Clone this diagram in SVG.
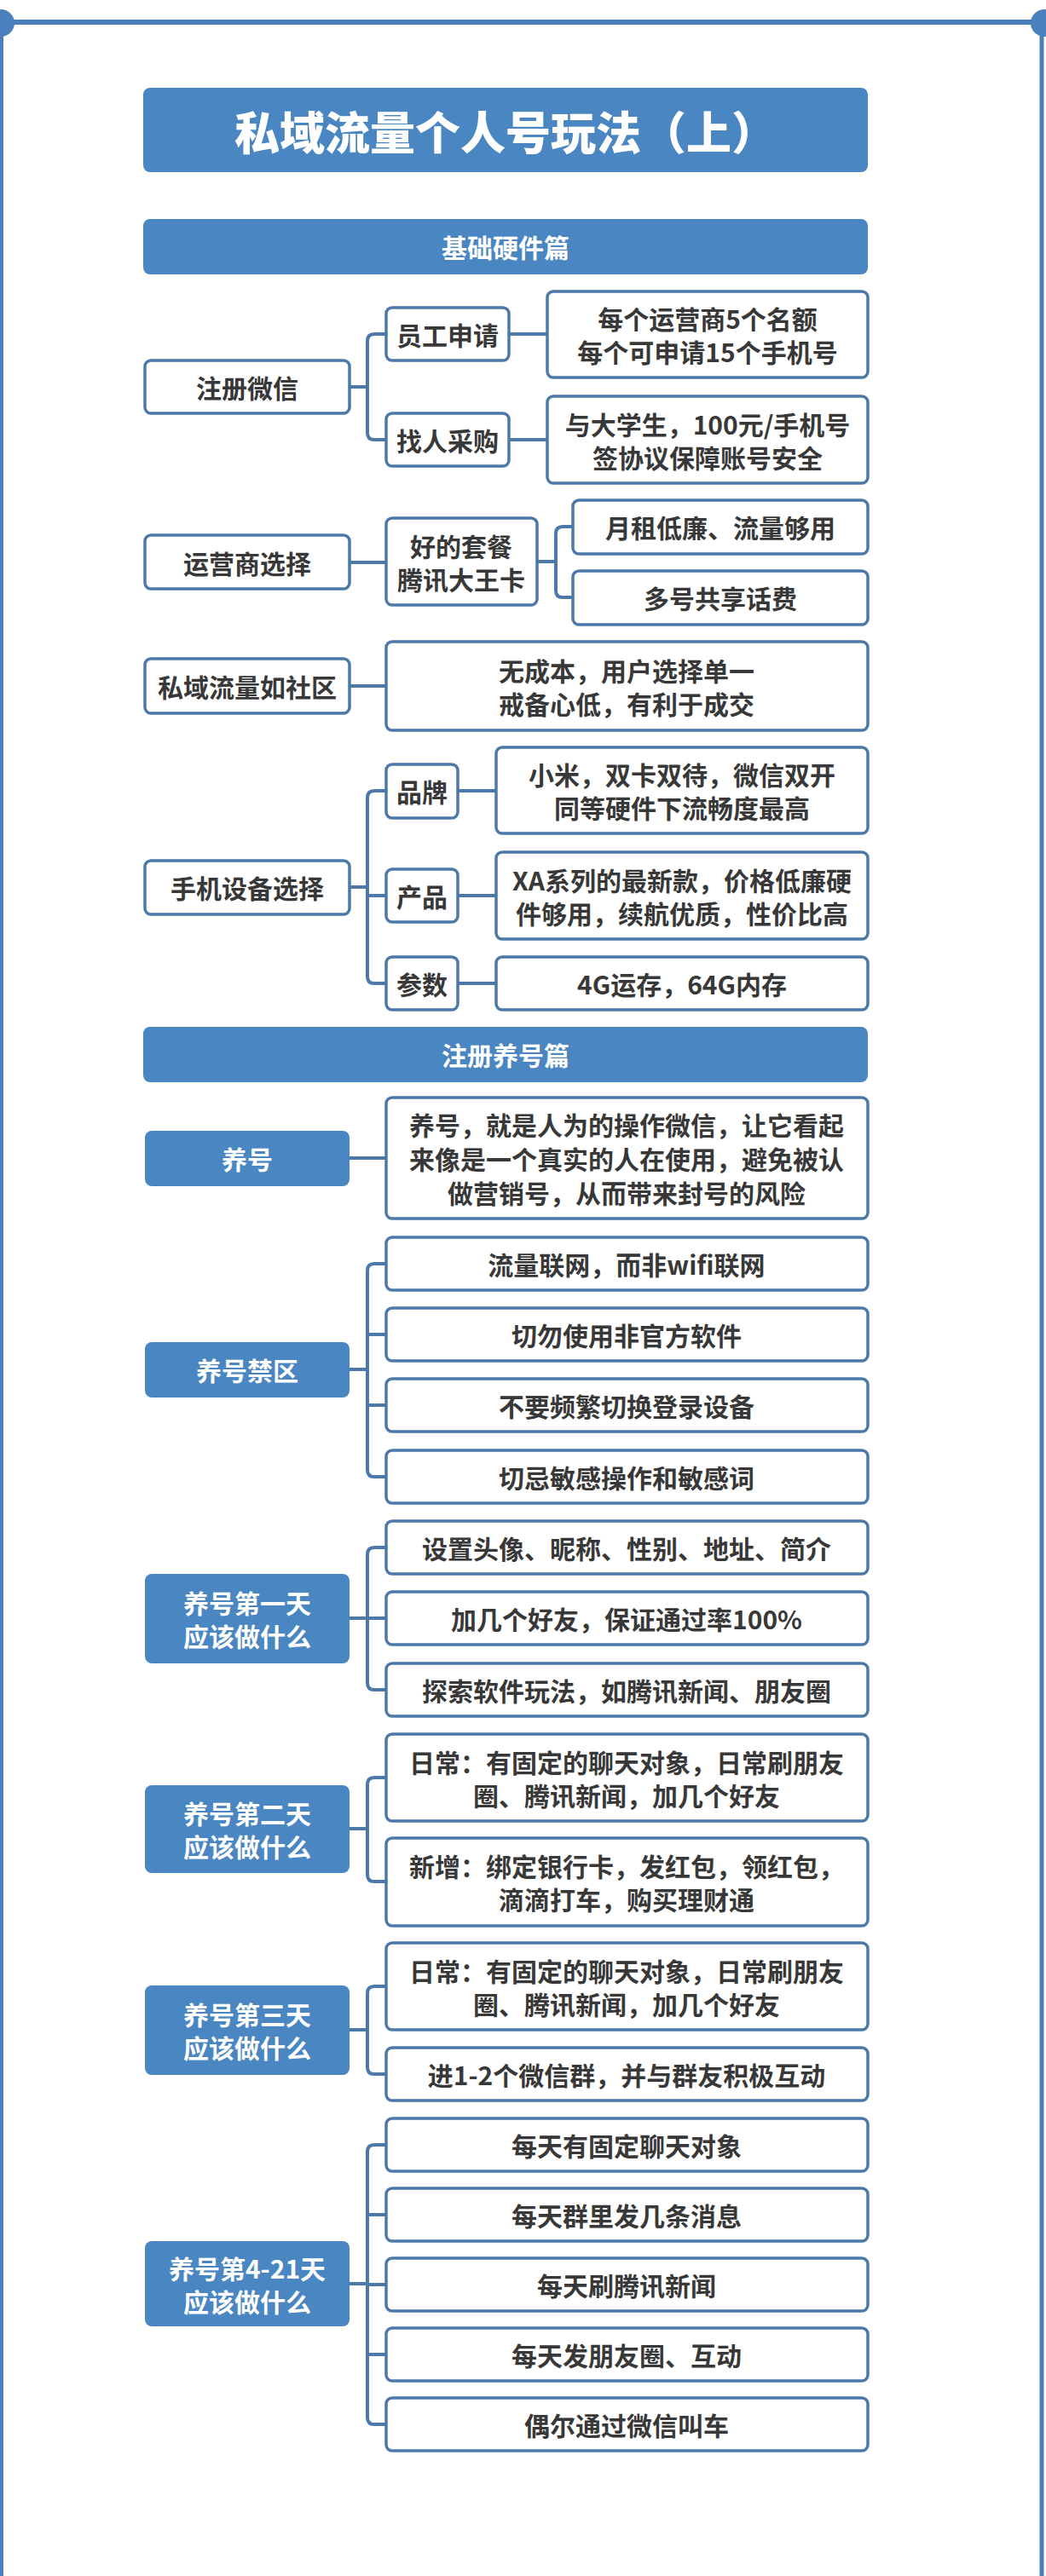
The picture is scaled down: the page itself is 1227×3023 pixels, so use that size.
<svg xmlns="http://www.w3.org/2000/svg" width="1227" height="3023" viewBox="0 0 1227 3023">
<style>
.bg{fill:#ffffff}
.frame{stroke:#4a7fb9;fill:none}
.dot{fill:#4a80bb}
.box{fill:#ffffff;stroke:#4d79a9;stroke-width:3.5}
.fbox{fill:#4a86c1}
.hdr{fill:#4a86c1}
.conn{fill:none;stroke:#4d79a9;stroke-width:4;stroke-linecap:butt}
text{font-family:'Noto Sans CJK SC','Noto Sans',sans-serif;font-weight:700;text-anchor:middle;dominant-baseline:central}
.t{fill:#383838;font-size:30px}
.w{fill:#ffffff;font-size:30px}
.title{fill:#ffffff;font-size:53px;font-weight:900}
</style>
<rect class="bg" x="0" y="0" width="1227" height="3023"/>
<g id="frame">
<line class="frame" x1="0" y1="26" x2="1227" y2="26" stroke-width="6"/>
<line class="frame" x1="2" y1="26" x2="2" y2="3023" stroke-width="4"/>
<line class="frame" x1="1222" y1="26" x2="1222" y2="3023" stroke-width="5"/>
<circle class="dot" cx="1" cy="27" r="16"/>
<circle class="dot" cx="1225" cy="27" r="16"/>
</g>
<g id="title"><rect class="fbox" x="168" y="103" width="850" height="99" rx="8"/><text class="title" x="593" y="153">私域流量个人号玩法（上）</text></g>
<g id="hdr1"><rect class="hdr" x="168" y="257" width="850" height="65" rx="8"/><text class="w" x="593" y="289">基础硬件篇</text></g>

<g id="connectors">
<path class="conn" d="M410,454 H431 M453,392 H439 Q431,392 431,400 V508 Q431,516 439,516 H453"/>
<path class="conn" d="M597,392 H642 M597,516 H642"/>
<path class="conn" d="M410,660 H453"/>
<path class="conn" d="M630,659 H652 M672,618 H660 Q652,618 652,626 V693 Q652,701 660,701 H672"/>
<path class="conn" d="M410,805 H453"/>
<path class="conn" d="M410,1041 H431 M453,928 H439 Q431,928 431,936 V1146 Q431,1154 439,1154 H453 M431,1051 H453"/>
<path class="conn" d="M537,928 H582 M537,1051 H582 M537,1154 H582"/>
<path class="conn" d="M410,1359 H453"/>
<path class="conn" d="M410,1607 H431 M453,1483 H439 Q431,1483 431,1491 V1725 Q431,1733 439,1733 H453 M431,1566 H453 M431,1649 H453"/>
<path class="conn" d="M410,1899 H453 M453,1816 H439 Q431,1816 431,1824 V1975 Q431,1983 439,1983 H453"/>
<path class="conn" d="M410,2146 H431 M453,2086 H439 Q431,2086 431,2094 V2200 Q431,2208 439,2208 H453"/>
<path class="conn" d="M410,2382 H431 M453,2331 H439 Q431,2331 431,2339 V2426 Q431,2434 439,2434 H453"/>
<path class="conn" d="M410,2680 H431 M453,2517 H439 Q431,2517 431,2525 V2837 Q431,2845 439,2845 H453 M431,2599 H453 M431,2681 H453 M431,2763 H453"/>
</g>

<g id="n-zhuce"><rect class="box" x="170" y="423" width="240" height="62" rx="7"/><text class="t" x="290" y="454">注册微信</text></g>
<g id="n-yuangong"><rect class="box" x="453" y="361" width="144" height="62" rx="7"/><text class="t" x="525" y="392">员工申请</text></g>
<g id="n-zhaoren"><rect class="box" x="453" y="485" width="144" height="62" rx="7"/><text class="t" x="525" y="516">找人采购</text></g>
<g id="n-mingE"><rect class="box" x="642" y="342" width="376" height="101" rx="7"/><text class="t" x="830" y="373">每个运营商5个名额</text><text class="t" x="830" y="412">每个可申请15个手机号</text></g>
<g id="n-daxuesheng"><rect class="box" x="642" y="465" width="376" height="102" rx="7"/><text class="t" x="830" y="497">与大学生，100元/手机号</text><text class="t" x="830" y="536">签协议保障账号安全</text></g>

<g id="n-yunying"><rect class="box" x="170" y="628" width="240" height="63" rx="7"/><text class="t" x="290" y="660">运营商选择</text></g>
<g id="n-taocan"><rect class="box" x="453" y="608" width="177" height="102" rx="7"/><text class="t" x="541" y="640">好的套餐</text><text class="t" x="541" y="679">腾讯大王卡</text></g>
<g id="n-yuezu"><rect class="box" x="672" y="587" width="346" height="63" rx="7"/><text class="t" x="845" y="618">月租低廉、流量够用</text></g>
<g id="n-duohao"><rect class="box" x="672" y="670" width="346" height="63" rx="7"/><text class="t" x="845" y="701">多号共享话费</text></g>

<g id="n-shequ"><rect class="box" x="170" y="773" width="240" height="64" rx="7"/><text class="t" x="290" y="805">私域流量如社区</text></g>
<g id="n-wuchengben"><rect class="box" x="453" y="753" width="565" height="104" rx="7"/><text class="t" x="735" y="786">无成本，用户选择单一</text><text class="t" x="735" y="825">戒备心低，有利于成交</text></g>

<g id="n-shouji"><rect class="box" x="170" y="1010" width="240" height="63" rx="7"/><text class="t" x="290" y="1041">手机设备选择</text></g>
<g id="n-pinpai"><rect class="box" x="453" y="897" width="84" height="63" rx="7"/><text class="t" x="495" y="928">品牌</text></g>
<g id="n-chanpin"><rect class="box" x="453" y="1020" width="84" height="62" rx="7"/><text class="t" x="495" y="1051">产品</text></g>
<g id="n-canshu"><rect class="box" x="453" y="1123" width="84" height="62" rx="7"/><text class="t" x="495" y="1154">参数</text></g>
<g id="n-xiaomi"><rect class="box" x="582" y="877" width="436" height="101" rx="7"/><text class="t" x="800" y="908">小米，双卡双待，微信双开</text><text class="t" x="800" y="947">同等硬件下流畅度最高</text></g>
<g id="n-xa"><rect class="box" x="582" y="1000" width="436" height="102" rx="7"/><text class="t" x="800" y="1032">XA系列的最新款，价格低廉硬</text><text class="t" x="800" y="1071">件够用，续航优质，性价比高</text></g>
<g id="n-4g"><rect class="box" x="582" y="1123" width="436" height="62" rx="7"/><text class="t" x="800" y="1154">4G运存，64G内存</text></g>

<g id="hdr2"><rect class="hdr" x="168" y="1205" width="850" height="65" rx="8"/><text class="w" x="593" y="1237">注册养号篇</text></g>

<g id="n-yanghao"><rect class="fbox" x="170" y="1327" width="240" height="65" rx="8"/><text class="w" x="290" y="1359">养号</text></g>
<g id="n-yanghao-desc"><rect class="box" x="453" y="1288" width="565" height="142" rx="7"/><text class="t" x="735" y="1319">养号，就是人为的操作微信，让它看起</text><text class="t" x="735" y="1359">来像是一个真实的人在使用，避免被认</text><text class="t" x="735" y="1399">做营销号，从而带来封号的风险</text></g>

<g id="n-jinqu"><rect class="fbox" x="170" y="1575" width="240" height="65" rx="8"/><text class="w" x="290" y="1607">养号禁区</text></g>
<g id="n-jq1"><rect class="box" x="453" y="1452" width="565" height="62" rx="7"/><text class="t" x="735" y="1483">流量联网，而非wifi联网</text></g>
<g id="n-jq2"><rect class="box" x="453" y="1535" width="565" height="62" rx="7"/><text class="t" x="735" y="1566">切勿使用非官方软件</text></g>
<g id="n-jq3"><rect class="box" x="453" y="1618" width="565" height="62" rx="7"/><text class="t" x="735" y="1649">不要频繁切换登录设备</text></g>
<g id="n-jq4"><rect class="box" x="453" y="1702" width="565" height="62" rx="7"/><text class="t" x="735" y="1733">切忌敏感操作和敏感词</text></g>

<g id="n-day1"><rect class="fbox" x="170" y="1847" width="240" height="105" rx="8"/><text class="w" x="290" y="1880">养号第一天</text><text class="w" x="290" y="1919">应该做什么</text></g>
<g id="n-d1a"><rect class="box" x="453" y="1785" width="565" height="62" rx="7"/><text class="t" x="735" y="1816">设置头像、昵称、性别、地址、简介</text></g>
<g id="n-d1b"><rect class="box" x="453" y="1868" width="565" height="62" rx="7"/><text class="t" x="735" y="1899">加几个好友，保证通过率100%</text></g>
<g id="n-d1c"><rect class="box" x="453" y="1952" width="565" height="62" rx="7"/><text class="t" x="735" y="1983">探索软件玩法，如腾讯新闻、朋友圈</text></g>

<g id="n-day2"><rect class="fbox" x="170" y="2095" width="240" height="103" rx="8"/><text class="w" x="290" y="2127">养号第二天</text><text class="w" x="290" y="2166">应该做什么</text></g>
<g id="n-d2a"><rect class="box" x="453" y="2035" width="565" height="102" rx="7"/><text class="t" x="735" y="2067">日常：有固定的聊天对象，日常刷朋友</text><text class="t" x="735" y="2106">圈、腾讯新闻，加几个好友</text></g>
<g id="n-d2b"><rect class="box" x="453" y="2157" width="565" height="103" rx="7"/><text class="t" x="735" y="2189">新增：绑定银行卡，发红包，领红包，</text><text class="t" x="735" y="2228">滴滴打车，购买理财通</text></g>

<g id="n-day3"><rect class="fbox" x="170" y="2330" width="240" height="105" rx="8"/><text class="w" x="290" y="2363">养号第三天</text><text class="w" x="290" y="2402">应该做什么</text></g>
<g id="n-d3a"><rect class="box" x="453" y="2280" width="565" height="102" rx="7"/><text class="t" x="735" y="2312">日常：有固定的聊天对象，日常刷朋友</text><text class="t" x="735" y="2351">圈、腾讯新闻，加几个好友</text></g>
<g id="n-d3b"><rect class="box" x="453" y="2403" width="565" height="62" rx="7"/><text class="t" x="735" y="2434">进1-2个微信群，并与群友积极互动</text></g>

<g id="n-day421"><rect class="fbox" x="170" y="2630" width="240" height="100" rx="8"/><text class="w" x="290" y="2661">养号第4-21天</text><text class="w" x="290" y="2700">应该做什么</text></g>
<g id="n-d4a"><rect class="box" x="453" y="2486" width="565" height="62" rx="7"/><text class="t" x="735" y="2517">每天有固定聊天对象</text></g>
<g id="n-d4b"><rect class="box" x="453" y="2568" width="565" height="62" rx="7"/><text class="t" x="735" y="2599">每天群里发几条消息</text></g>
<g id="n-d4c"><rect class="box" x="453" y="2650" width="565" height="62" rx="7"/><text class="t" x="735" y="2681">每天刷腾讯新闻</text></g>
<g id="n-d4d"><rect class="box" x="453" y="2732" width="565" height="62" rx="7"/><text class="t" x="735" y="2763">每天发朋友圈、互动</text></g>
<g id="n-d4e"><rect class="box" x="453" y="2814" width="565" height="62" rx="7"/><text class="t" x="735" y="2845">偶尔通过微信叫车</text></g>
</svg>
